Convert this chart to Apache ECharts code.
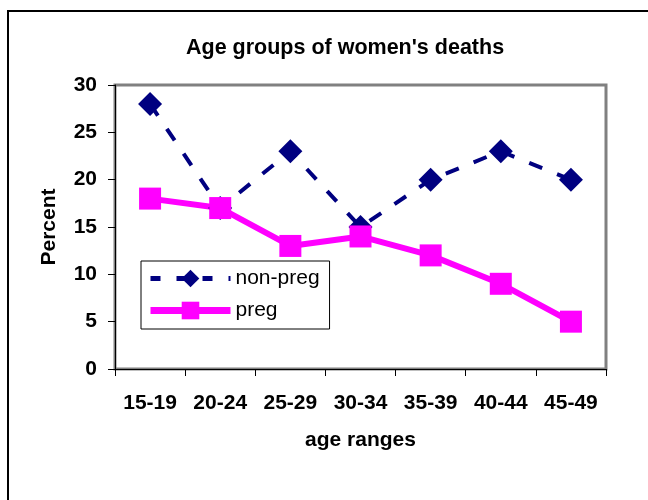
<!DOCTYPE html>
<html>
<head>
<meta charset="utf-8">
<script src="https://cdn.jsdelivr.net/npm/echarts@6/dist/echarts.min.js"></script>
<style>
  html, body { margin: 0; padding: 0; background: #fff; }
  #chart { width: 648px; height: 500px; }
</style>
</head>
<body>
<div id="chart"></div>
<script>
var ageRanges = ['15-19', '20-24', '25-29', '30-34', '35-39', '40-44', '45-49'];
var nonPreg = [28, 17, 23, 15, 20, 23, 20];
var preg = [18, 17, 13, 14, 12, 9, 5];

var chart = echarts.init(document.getElementById('chart'));
var font = 'Liberation Sans, Arial, sans-serif';
var boldText = { fontFamily: font, fontSize: 21, fontWeight: 'bold', color: '#000' };

var option = {
    backgroundColor: '#fff',
    animation: false,
    title: {
        text: "Age groups of women's deaths",
        left: 186,
        top: 37,
        padding: 0,
        textStyle: Object.assign({}, boldText, { fontSize: 21.5 })
    },
    // outer frame of the chart, runs off the right and bottom edge
    graphic: [{
        type: 'rect',
        shape: { x: 8, y: 11, width: 700, height: 600 },
        style: { fill: 'none', stroke: '#000', lineWidth: 2 },
        silent: true
    }],
    legend: {
        orient: 'vertical',
        left: 141,
        top: 261,
        padding: [7, 10, 8, 6],
        itemGap: 11,
        itemWidth: 80,
        itemHeight: 22,
        borderColor: '#000',
        borderWidth: 1,
        textStyle: { fontFamily: font, fontSize: 21, color: '#000' },
        data: [
            { name: 'non-preg', lineStyle: { width: 5, type: [10, 16] } },
            { name: 'preg', lineStyle: { width: 7 } }
        ]
    },
    grid: {
        left: 115, top: 85, right: 42, bottom: 131,
        show: true,
        borderColor: '#808080',
        borderWidth: 3
    },
    xAxis: {
        type: 'category',
        data: ageRanges,
        boundaryGap: true,
        name: 'age ranges',
        nameLocation: 'middle',
        nameGap: 61,
        nameTextStyle: boldText,
        axisLine: { lineStyle: { color: '#000', width: 1 } },
        axisTick: { show: true, length: 7, lineStyle: { color: '#000' } },
        axisLabel: Object.assign({ margin: 24 }, boldText)
    },
    yAxis: {
        type: 'value',
        min: 0,
        max: 30,
        interval: 5,
        name: 'Percent',
        nameLocation: 'middle',
        nameGap: 55,
        nameTextStyle: boldText,
        axisLine: { show: true, lineStyle: { color: '#000', width: 1 } },
        axisTick: { show: true, length: 7, lineStyle: { color: '#000' } },
        axisLabel: Object.assign({ margin: 18 }, boldText),
        splitLine: { show: false }
    },
    series: [
        {
            name: 'non-preg',
            type: 'line',
            data: nonPreg,
            symbol: 'diamond',
            symbolSize: 24,
            itemStyle: { color: '#000080' },
            lineStyle: { color: '#000080', width: 4, type: [14, 16] }
        },
        {
            name: 'preg',
            type: 'line',
            data: preg,
            symbol: 'rect',
            symbolSize: 22,
            itemStyle: { color: '#ff00ff' },
            lineStyle: { color: '#ff00ff', width: 6 }
        }
    ]
};

chart.setOption(option);
</script>
</body>
</html>
